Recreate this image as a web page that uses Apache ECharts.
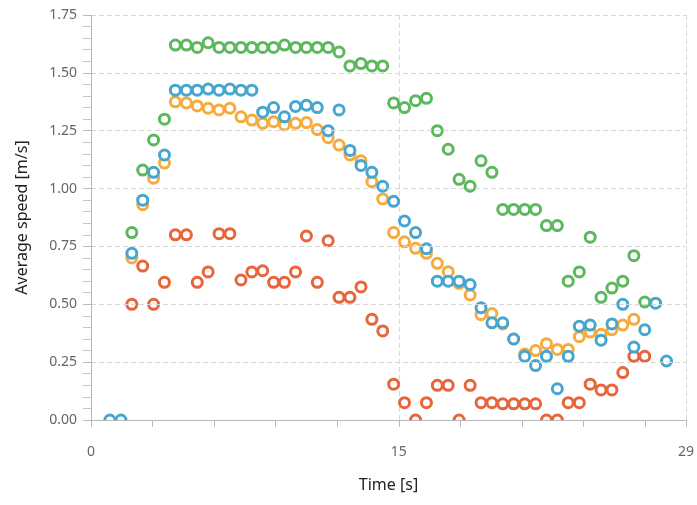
<!DOCTYPE html>
<html>
<head>
<meta charset="utf-8">
<style>
  html, body { margin: 0; padding: 0; background: #fff; }
  #chart { width: 697px; height: 505px; }
</style>
<script src="https://cdn.jsdelivr.net/npm/echarts@6/dist/echarts.min.js"></script>
</head>
<body>
<div id="chart"></div>
<script>
// Sample times [s], shared by all four runs
const times = [
  0.92, 1.46, 1.99, 2.52, 3.05, 3.58, 4.11, 4.65, 5.18, 5.71,
  6.24, 6.77, 7.31, 7.84, 8.37, 8.90, 9.43, 9.97, 10.50, 11.03,
  11.56, 12.09, 12.62, 13.16, 13.69, 14.22, 14.75, 15.28, 15.82, 16.35,
  16.88, 17.41, 17.94, 18.48, 19.01, 19.54, 20.07, 20.60, 21.14, 21.67,
  22.20, 22.73, 23.26, 23.80, 24.33, 24.86, 25.39, 25.92, 26.46, 26.99,
  27.52, 28.05
];

// Average speed [m/s] per run (null = no sample)
const speedGreen = [
  null, null, 0.81, 1.08, 1.21, 1.30, 1.62, 1.62, 1.61, 1.63,
  1.61, 1.61, 1.61, 1.61, 1.61, 1.61, 1.62, 1.61, 1.61, 1.61,
  1.61, 1.59, 1.53, 1.54, 1.53, 1.53, 1.37, 1.35, 1.38, 1.39,
  1.25, 1.17, 1.04, 1.01, 1.12, 1.07, 0.91, 0.91, 0.91, 0.91,
  0.84, 0.84, 0.60, 0.64, 0.79, 0.53, 0.57, 0.60, 0.71, 0.51,
  null, null
];
const speedBlue = [
  0.00, 0.00, 0.72, 0.95, 1.07, 1.145, 1.425, 1.425, 1.425, 1.43,
  1.425, 1.43, 1.425, 1.425, 1.33, 1.35, 1.31, 1.355, 1.36, 1.35,
  1.25, 1.34, 1.165, 1.10, 1.07, 1.01, 0.945, 0.86, 0.81, 0.74,
  0.60, 0.60, 0.60, 0.585, 0.485, 0.42, 0.42, 0.35, 0.275, 0.235,
  0.275, 0.135, 0.275, 0.405, 0.41, 0.345, 0.415, 0.50, 0.315, 0.39,
  0.505, 0.255
];
const speedOrange = [
  null, null, 0.70, 0.93, 1.045, 1.11, 1.375, 1.37, 1.357, 1.347,
  1.34, 1.347, 1.31, 1.296, 1.282, 1.289, 1.275, 1.282, 1.285, 1.255,
  1.22, 1.188, 1.145, 1.12, 1.03, 0.955, 0.81, 0.77, 0.742, 0.72,
  0.677, 0.641, 0.59, 0.54, 0.455, 0.46, 0.415, 0.35, 0.285, 0.30,
  0.33, 0.305, 0.305, 0.36, 0.38, 0.37, 0.39, 0.41, 0.435, null,
  null, null
];
const speedRed = [
  null, null, 0.50, 0.665, 0.50, 0.595, 0.80, 0.80, 0.595, 0.64,
  0.805, 0.805, 0.605, 0.64, 0.645, 0.595, 0.595, 0.64, 0.795, 0.595,
  0.775, 0.53, 0.53, 0.575, 0.435, 0.385, 0.155, 0.075, 0.00, 0.075,
  0.15, 0.15, 0.00, 0.15, 0.075, 0.075, 0.07, 0.07, 0.07, 0.07,
  0.00, 0.00, 0.075, 0.075, 0.155, 0.13, 0.13, 0.205, 0.275, 0.275,
  null, null
];

const xLabels = [0, 15, 29];

const colors = { red: '#e8643a', orange: '#f6ab3c', green: '#5cb85c', blue: '#47a6cf' };

const gridBox = { left: 91, right: 9, top: 15, bottom: 85 };
const W = 697, H = 505;
const FONT = '"Noto Sans", "Open Sans", sans-serif';

function pairs(values) {
  const out = [];
  values.forEach((v, i) => { if (v !== null) out.push([times[i], v]); });
  return out;
}

function runSeries(name, values, color) {
  return {
    name: name,
    type: 'scatter',
    xAxisIndex: 0,
    yAxisIndex: 0,
    data: pairs(values),
    symbol: 'circle',
    symbolSize: 10,
    z: 2,
    itemStyle: { color: '#ffffff', borderColor: color, borderWidth: 3, opacity: 1 },
    emphasis: { disabled: true }
  };
}

const chart = echarts.init(document.getElementById('chart'), null, { renderer: 'canvas' });

chart.setOption({
  animation: false,
  backgroundColor: '#ffffff',
  textStyle: { fontFamily: FONT },
  grid: Object.assign({ containLabel: false }, gridBox),
  xAxis: [
    {
      // axis line, ticks, labels and title
      type: 'value', min: 0, max: 29, interval: 3,
      z: 6,
      axisLine: { show: true, onZero: false, lineStyle: { color: '#b8b8b8', width: 1 } },
      axisTick: { show: true, length: 7, lineStyle: { color: '#b8b8b8' } },
      axisLabel: {
        color: '#666', fontSize: 14, margin: 25, fontFamily: FONT,
        formatter: v => (xLabels.indexOf(v) >= 0 ? String(v) : '')
      },
      splitLine: { show: false },
      name: 'Time [s]', nameLocation: 'middle', nameGap: 57,
      nameTextStyle: { color: '#222', fontSize: 16, fontFamily: FONT }
    },
    {
      // dashed vertical guides at 15 s and at the end of the range
      type: 'value', min: 0, max: 29, interval: 15, position: 'bottom',
      z: 0,
      axisLine: { show: false }, axisTick: { show: false }, axisLabel: { show: false },
      splitLine: { show: true, showMinLine: false, lineStyle: { color: '#d6d6d6', type: [5, 3], width: 1 } }
    }
  ],
  yAxis: {
    type: 'value', min: 0, max: 1.75, interval: 0.25,
    z: 6,
    axisLine: { show: true, lineStyle: { color: '#b8b8b8', width: 1 } },
    axisTick: { show: true, length: 8, lineStyle: { color: '#b8b8b8' } },
    minorTick: { show: true, splitNumber: 5, length: 8, lineStyle: { color: '#c4c4c4' } },
    axisLabel: {
      color: '#666', fontSize: 14, margin: 14, fontFamily: FONT,
      formatter: v => v.toFixed(2)
    },
    splitLine: { show: true, lineStyle: { color: '#d6d6d6', type: [5, 3], width: 1 } },
    name: 'Average speed [m/s]', nameLocation: 'middle', nameGap: 61,
    nameTextStyle: { color: '#222', fontSize: 16, fontFamily: FONT }
  },
  // white band under the x axis line so markers at zero are cut at the axis
  graphic: [{
    type: 'rect', z: 4, silent: true,
    shape: { x: gridBox.left + 1, y: H - gridBox.bottom + 0.5, width: W - gridBox.left - gridBox.right, height: 12 },
    style: { fill: '#ffffff' }
  }],
  series: [
    runSeries('run D', speedRed, colors.red),
    runSeries('run C', speedOrange, colors.orange),
    runSeries('run A', speedGreen, colors.green),
    runSeries('run B', speedBlue, colors.blue)
  ]
});
</script>
</body>
</html>
